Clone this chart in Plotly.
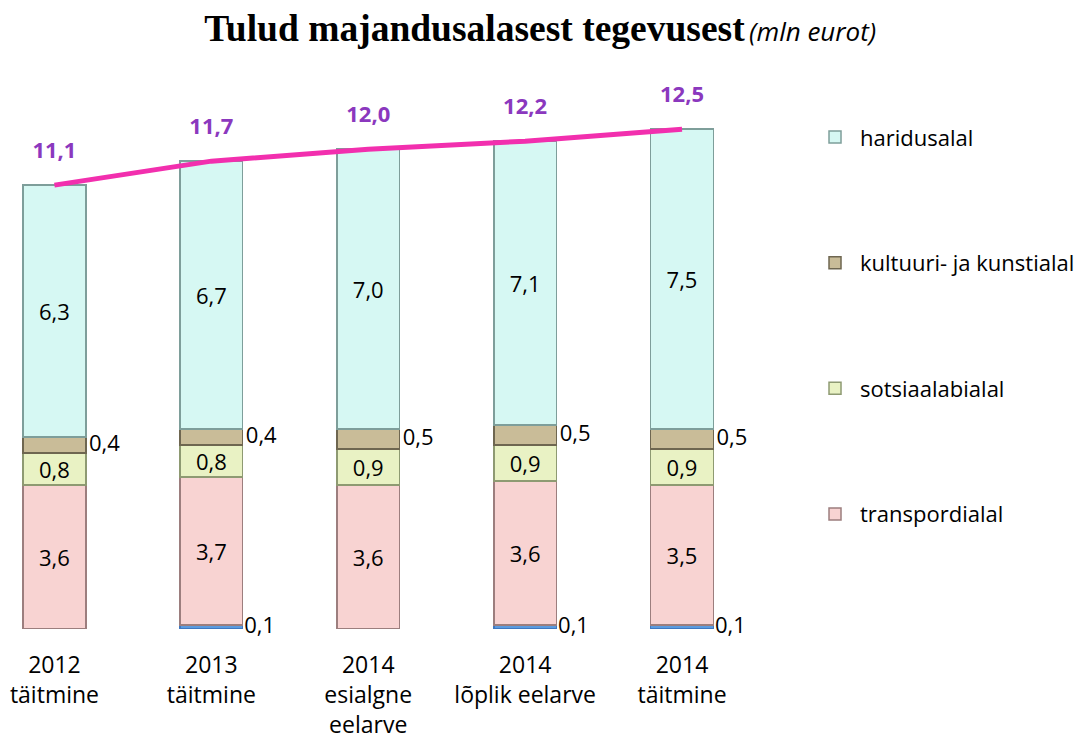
import plotly.graph_objects as go

categories = ["2012<br>täitmine", "2013<br>täitmine", "2014<br>esialgne<br>eelarve",
              "2014<br>lõplik eelarve", "2014<br>täitmine"]
muu = [0.0, 0.1, 0.0, 0.1, 0.1]
transpordialal = [3.6, 3.7, 3.6, 3.6, 3.5]
sotsiaalabialal = [0.8, 0.8, 0.9, 0.9, 0.9]
kultuur = [0.4, 0.4, 0.5, 0.5, 0.5]
haridusalal = [6.3, 6.7, 7.0, 7.1, 7.5]
totals = [11.1, 11.7, 12.0, 12.2, 12.5]

def fmt(v):
    return f"{v:.1f}".replace(".", ",")

xs = list(range(len(categories)))
FONT = "'Open Sans', sans-serif"
BW = 0.40

fig = go.Figure()

series = [
    ("muu", muu, "#5B9BE0", "#3F78C0", False, 5),
    ("transpordialal", transpordialal, "#F8D3D2", "#9C7E7E", True, 4),
    ("sotsiaalabialal", sotsiaalabialal, "#E9F2C4", "#8E9A72", True, 3),
    ("kultuuri- ja kunstialal", kultuur, "#C9BC98", "#6E6650", True, 2),
    ("haridusalal", haridusalal, "#D6F8F3", "#7E9E9A", True, 1),
]
for name, vals, col, lcol, show, rank in series:
    inside = name in ("transpordialal", "sotsiaalabialal", "haridusalal")
    fig.add_trace(go.Bar(
        x=xs, y=vals, name=name, width=BW, legendgroup=name, showlegend=show,
        legendrank=rank,
        marker=dict(color=col, line=dict(color=lcol, width=1.5)),
        text=[fmt(v) for v in vals] if inside else None,
        textposition="inside" if inside else "none",
        insidetextanchor="middle", constraintext="none",
        textfont=dict(family=FONT, size=22, color="black"),
        hoverinfo="skip",
    ))

# outside labels for small segments
base_k = [m + t + s for m, t, s in zip(muu, transpordialal, sotsiaalabialal)]
fig.add_trace(go.Scatter(
    x=[i + BW / 2 + 0.02 for i in xs], y=[b + k / 2 for b, k in zip(base_k, kultuur)],
    mode="text", text=[fmt(v) for v in kultuur], textposition="middle right",
    textfont=dict(family=FONT, size=22, color="black"), showlegend=False,
    hoverinfo="skip", cliponaxis=False))

mx = [i + BW / 2 + 0.01 for i, m in zip(xs, muu) if m > 0]
my = [m / 2 for m in muu if m > 0]
fig.add_trace(go.Scatter(
    x=mx, y=my, mode="text", text=[fmt(m) for m in muu if m > 0], textposition="middle right",
    textfont=dict(family=FONT, size=22, color="black"), showlegend=False,
    hoverinfo="skip", cliponaxis=False))

# total line
fig.add_trace(go.Scatter(
    x=xs, y=totals, mode="lines", line=dict(color="#F22FAE", width=5),
    showlegend=False, hoverinfo="skip", cliponaxis=False))
fig.add_trace(go.Scatter(
    x=xs, y=[t + 0.82 for t in totals], mode="text", text=[fmt(t) for t in totals],
    textposition="middle center",
    textfont=dict(family=FONT, size=22, color="#8B38BE", weight="bold"),
    showlegend=False, hoverinfo="skip", cliponaxis=False))

PX_PER_UNIT = 40.4
T_MARGIN = 40
B_MARGIN = 105
fig.update_layout(
    width=1084, height=732,
    paper_bgcolor="white", plot_bgcolor="white",
    margin=dict(l=0, r=332, t=T_MARGIN, b=B_MARGIN),
    barmode="stack",
    title=dict(
        text="<span style='font-family:\"Liberation Serif\",serif;font-size:37.5px;font-weight:bold'>Tulud majandusalasest tegevusest</span>&nbsp;"
             "<span style='font-family:\"Open Sans\",sans-serif;font-size:26px;font-style:italic'>(mln eurot)</span>",
        x=0.491, xanchor="center", y=0.963, yanchor="middle",
        font=dict(color="black"),
    ),
    xaxis=dict(
        tickmode="array", tickvals=xs, ticktext=categories,
        range=[-0.296, 4.497], showgrid=False, zeroline=False, showline=False,
        ticks="", ticklabelstandoff=20,
        tickfont=dict(family=FONT, size=23, color="black"),
    ),
    yaxis=dict(range=[0, (732 - B_MARGIN - T_MARGIN) / PX_PER_UNIT], visible=False),
    legend=dict(
        x=1.0665, xanchor="left", y=1 - (109 - T_MARGIN) / (732 - B_MARGIN - T_MARGIN), yanchor="top",
        traceorder="grouped", tracegroupgap=94,
        font=dict(family=FONT, size=22, color="black"),
        itemwidth=40, bgcolor="rgba(0,0,0,0)",
    ),
    font=dict(family=FONT),
)

fig.write_html("out.html")
